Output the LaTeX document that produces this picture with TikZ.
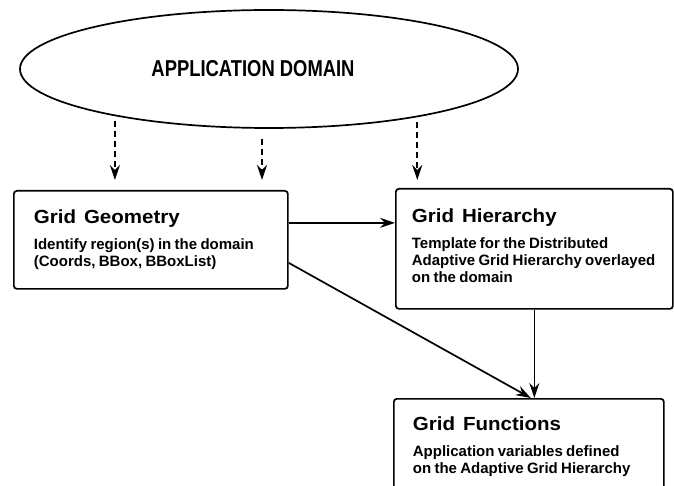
\documentclass[tikz,border=0pt]{standalone}
\usepackage{fontspec}
\setmainfont{Liberation Sans}
\newfontfamily\domainfont[FakeStretch=0.8]{Liberation Sans}
\newfontfamily\titlefont[FakeStretch=1.08]{Liberation Sans}
\usetikzlibrary{arrows.meta,shapes.geometric,positioning,calc}
\setlength{\parindent}{0pt}

\newcommand{\boxtitle}[1]{{\titlefont\bfseries\fontsize{19}{22}\selectfont\spaceskip=8pt\relax #1\par}\vspace{9pt}}
\newcommand{\boxtext}[1]{{\bfseries\fontsize{15}{17}\selectfont #1\par}}
\newcommand{\boxpad}[1]{\par\vspace{#1}\nointerlineskip\null}

\begin{document}
\begin{tikzpicture}[x=1pt,y=-1pt,
  domainshape/.style={draw, ellipse, line width=1.7pt, inner sep=0pt,
    minimum width=498pt, minimum height=118pt},
  gbox/.style={draw, line width=1.7pt, rounded corners=3pt, anchor=north west,
    align=left, inner ysep=18pt},
  flow/.style={-{Stealth[length=15pt,width=10pt,inset=5pt]}, line width=1.7pt},
  dflow/.style={flow, dash pattern=on 6pt off 4pt}]

  \useasboundingbox (0,0) rectangle (674,486);

  % Nodes
  \node[domainshape] (domain) at (269,69)
    {\raisebox{-4pt}{\hspace*{-32pt}\domainfont\bfseries\fontsize{23}{26}\selectfont APPLICATION DOMAIN}};

  \node[gbox, inner xsep=20pt, text width=234pt, minimum height=98pt] (geom) at (13,190)
    {\boxtitle{Grid Geometry}\boxtext{Identify region(s) in the domain\\(Coords, BBox, BBoxList)}};
  \node[gbox, inner xsep=16pt, text width=245pt, minimum height=120pt] (hier) at (395,188)
    {\boxtitle{Grid Hierarchy}\boxtext{Template for the Distributed\\Adaptive Grid Hierarchy overlayed\\on the domain}\boxpad{7pt}};
  \node[gbox, inner xsep=19pt, text width=232pt] (func) at (393,398)
    {\boxtitle{Grid Functions}\boxtext{Application variables defined\\on the Adaptive Grid Hierarchy}\boxpad{10pt}};

  % Dashed arrows from the domain
  \draw[dflow] ([yshift=-5pt]domain.197) -- ($(domain.197 |- geom.north)+(0pt,10pt)$);
  \draw[dflow] ($(domain.south)+(-7pt,-10pt)$) -- ($(domain.south |- geom.north)+(-7pt,10pt)$);
  \draw[dflow] ([yshift=-5pt]domain.342) -- ($(domain.342 |- hier.north)+(0pt,8pt)$);

  % Solid arrows between the boxes
  \draw[flow] ([yshift=17pt]geom.east) -- ([yshift=17pt]geom.east -| hier.west);
  \draw[flow] (hier.south) -- (hier.south |- func.north);
  \draw[flow] ([yshift=-23pt]geom.east) -- ([xshift=2pt]func.north);

\end{tikzpicture}
\end{document}
